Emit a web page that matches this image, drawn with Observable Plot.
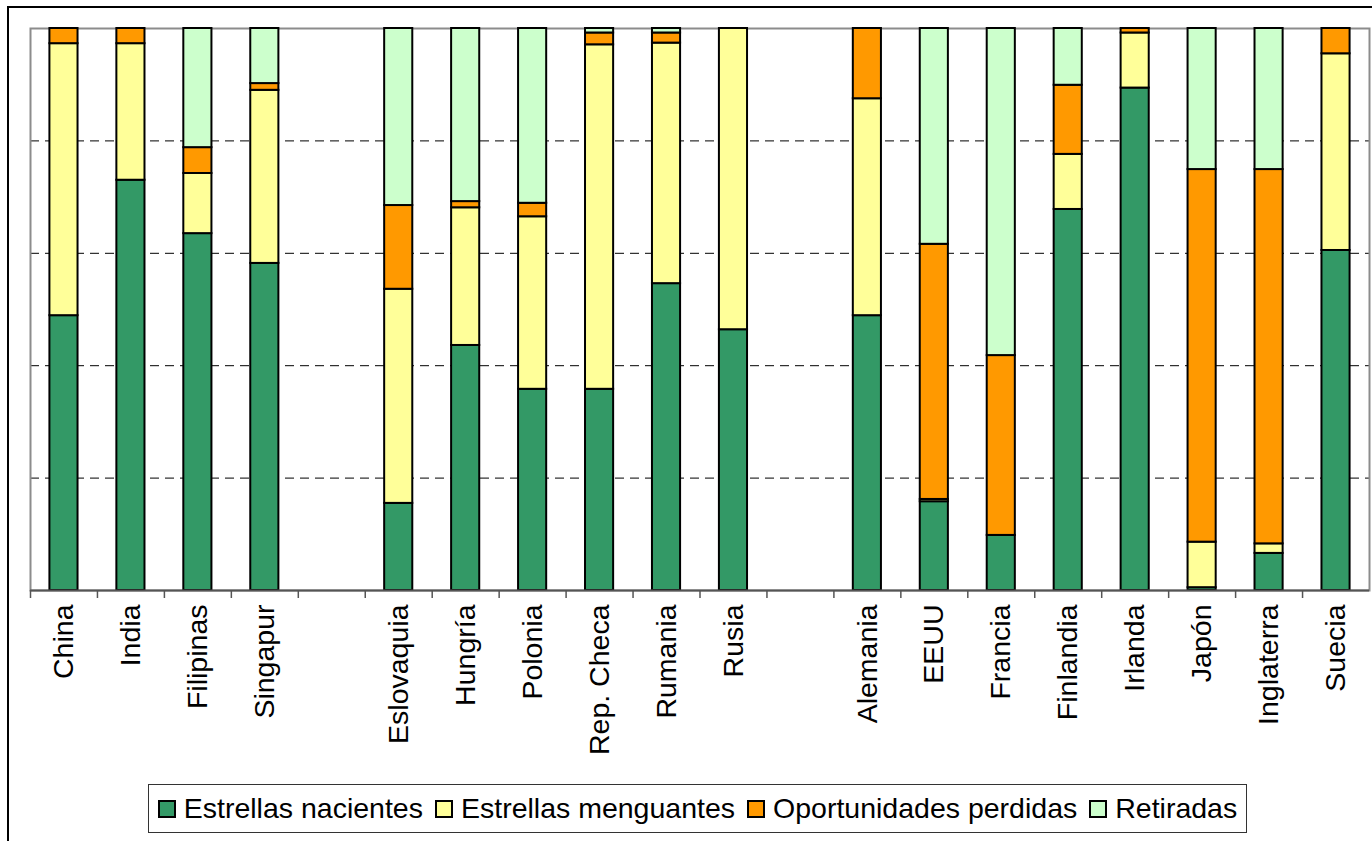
<!DOCTYPE html>
<html>
<head>
<meta charset="utf-8">
<script src="https://cdn.jsdelivr.net/npm/d3@7"></script>
<script src="https://cdn.jsdelivr.net/npm/@observablehq/plot@0.6"></script>
<style>
  html, body { margin: 0; padding: 0; background: #fff; }
  body { width: 1372px; height: 841px; position: relative; overflow: hidden; font-family: "Liberation Sans", Arial, sans-serif; }
  #frame { position: absolute; left: 7px; top: 6px; width: 1400px; height: 860px; border: 2px solid #000; box-sizing: border-box; }
  #chart { position: absolute; left: 0; top: 0; }
  #legend { position: absolute; left: 148px; top: 784px; width: 1099px; height: 49px; border: 1px solid #333; box-sizing: border-box;
            display: flex; align-items: center; justify-content: center; gap: 0; background: #fff; }
  .item { display: flex; align-items: center; font-size: 28.5px; color: #000; margin: 0 6px; white-space: nowrap; }
  .sw { width: 14px; height: 14px; border: 2px solid #000; margin-right: 8px; }
</style>
</head>
<body>
<div id="frame"></div>
<div id="chart"></div>
<div id="legend"></div>
<script>
// Slots on the x axis (blank entries are the gaps between groups)
const slots = ["China", "India", "Filipinas", "Singapur", " ",
  "Eslovaquia", "Hungría", "Polonia", "Rep. Checa", "Rumania", "Rusia", "  ",
  "Alemania", "EEUU", "Francia", "Finlandia", "Irlanda", "Japón", "Inglaterra", "Suecia"];

const countries = ["China", "India", "Filipinas", "Singapur",
  "Eslovaquia", "Hungría", "Polonia", "Rep. Checa", "Rumania", "Rusia",
  "Alemania", "EEUU", "Francia", "Finlandia", "Irlanda", "Japón", "Inglaterra", "Suecia"];

const seriesNames = ["Estrellas nacientes", "Estrellas menguantes", "Oportunidades perdidas", "Retiradas"];
const seriesColors = ["#339966", "#FFFF99", "#FF9900", "#CCFFCC"];

// Percentages (%)
const nacientes   = [48.9, 73.0, 63.5, 58.2, 15.5, 43.6, 35.8, 35.8, 54.6, 46.4, 48.9, 15.8,  9.8, 67.8, 89.4,  0.5,  6.6, 60.5];
const menguantes  = [48.4, 24.3, 10.7, 30.8, 38.1, 24.5, 30.7, 61.3, 42.8, 53.6, 38.6,  0.4,  0.0,  9.8,  9.8,  8.1,  1.7, 35.0];
const perdidas    = [ 2.7,  2.7,  4.6,  1.2, 14.9,  1.1,  2.4,  2.1,  1.8,  0.0, 12.5, 45.4, 32.0, 12.3,  0.8, 66.3, 66.6,  4.5];
const retiradas   = [ 0.0,  0.0, 21.2,  9.8, 31.5, 30.8, 31.1,  0.8,  0.8,  0.0,  0.0, 38.4, 58.2, 10.1,  0.0, 25.1, 25.1,  0.0];

const seriesValues = [nacientes, menguantes, perdidas, retiradas];

const data = [];
countries.forEach((c, i) => {
  seriesNames.forEach((s, j) => {
    const v = seriesValues[j][i];
    if (v > 0) data.push({country: c, series: s, value: v});
  });
});

const W = 1372, H = 780;
const mL = 30, mR = 3, mT = 28, mB = H - 590;
const step = (W - mL - mR) / slots.length;

const chart = Plot.plot({
  width: W,
  height: H,
  marginLeft: mL,
  marginRight: mR,
  marginTop: mT,
  marginBottom: mB,
  style: {fontFamily: "'Liberation Sans', Arial, sans-serif", background: "transparent", color: "#000"},
  x: {domain: slots, paddingInner: 0.58, paddingOuter: 0.29, round: false, label: null},
  y: {domain: [0, 1], axis: null},
  color: {domain: seriesNames, range: seriesColors},
  marks: [
    Plot.ruleY([0.2, 0.4, 0.6, 0.8], {stroke: "#000", strokeWidth: 1, strokeDasharray: "9,6"}),
    Plot.frame({stroke: "#8c8c8c", strokeWidth: 2}),
    Plot.barY(data, Plot.stackY({
      x: "country", y: "value", fill: "series", z: "series",
      offset: "normalize", order: null,
      stroke: "#000", strokeWidth: 2
    })),
    Plot.ruleY([0], {stroke: "#555", strokeWidth: 2}),
    Plot.ruleX(slots, {x: d => d, y1: 0, y2: 0, dx: -step / 2, insetBottom: -8, stroke: "#555", strokeWidth: 1.5}),
    Plot.axisX({tickSize: 0, tickPadding: 14, tickRotate: -90, fontSize: 28.5, label: null})
  ]
});
document.getElementById("chart").appendChild(chart);

const legend = document.getElementById("legend");
seriesNames.forEach((s, j) => {
  const item = document.createElement("div");
  item.className = "item";
  const sw = document.createElement("div");
  sw.className = "sw";
  sw.style.background = seriesColors[j];
  item.appendChild(sw);
  item.appendChild(document.createTextNode(s));
  legend.appendChild(item);
});
</script>
</body>
</html>
